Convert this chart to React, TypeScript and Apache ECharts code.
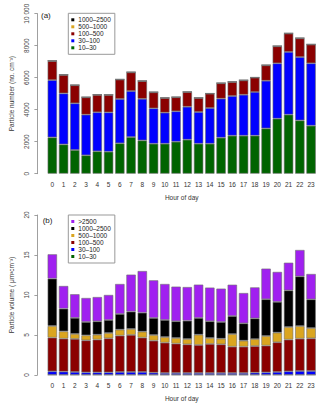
import React, { useEffect, useRef } from "react";
import * as echarts from "echarts";

const hours = ["0","1","2","3","4","5","6","7","8","9","10","11","12","13","14","15","16","17","18","19","20","21","22","23"];

// Panel (a): particle number (no. cm^-3)
const numSizes = ["10–30", "30–100", "100–500", "500–1000", "1000–2500"];
const num10_30 = [2270,1830,1480,1150,1400,1375,1900,2290,2080,1875,1875,2000,2125,1875,1875,2250,2375,2375,2375,2830,3440,3690,3330,3000];
const num30_100 = [3580,3190,2920,2540,2440,2460,2770,2875,2600,2210,1940,1900,2060,1980,2230,2440,2480,2560,2730,2980,3460,3920,3960,3900];
const num100_500 = [1190,1150,1125,1080,1085,1085,1210,1165,1105,1000,915,875,915,875,895,960,875,895,895,960,1060,1145,1165,1165];
const num500_1000 = [20,18,16,15,15,15,17,18,17,15,14,14,14,14,14,15,15,15,16,18,20,22,22,21];
const num1000_2500 = [4,4,3,3,3,3,3,4,4,3,3,3,3,3,3,3,3,3,3,4,4,5,5,4];
const numTicks = [0, 2000, 4000, 6000, 8000, 10000];

// Panel (b): particle volume (um^3 cm^-3)
const volSizes = ["10–30", "30–100", "100–500", "500–1000", "1000–2500", ">2500"];
const vol10_30 = [0.02,0.02,0.02,0.02,0.02,0.02,0.02,0.02,0.02,0.02,0.02,0.02,0.02,0.02,0.02,0.02,0.02,0.02,0.02,0.02,0.02,0.02,0.02,0.02];
const vol30_100 = [0.44,0.40,0.36,0.31,0.31,0.31,0.36,0.36,0.36,0.27,0.23,0.23,0.23,0.23,0.23,0.23,0.23,0.23,0.27,0.31,0.36,0.44,0.48,0.48];
const vol100_500 = [4.21,4.12,4.13,4.00,4.09,4.25,4.54,4.63,4.29,4.00,3.79,3.67,3.58,3.50,3.63,3.58,3.29,3.29,3.33,3.34,3.71,3.96,4.04,4.08];
const vol500_1000 = [1.46,0.92,0.63,0.63,0.62,0.67,0.75,0.75,0.75,0.71,0.71,0.71,0.67,1.29,0.75,0.71,1.58,0.75,0.88,1.21,1.21,1.58,1.58,1.29];
const vol1000_2500 = [5.92,2.83,2.00,1.67,1.67,1.63,1.96,2.17,2.37,2.13,2.13,2.09,2.29,2.09,2.09,2.09,2.25,2.17,2.58,4.59,3.84,4.58,6.21,3.59];
const vol2500 = [3.04,2.84,2.96,3.00,3.04,3.13,3.75,4.62,5.21,4.71,4.50,4.33,4.21,4.17,4.21,4.17,3.92,3.79,3.88,3.83,3.75,3.46,3.30,3.17];
const volTicks = [0, 5, 10, 15, 20];

const colors: Record<string, string> = {
  "10–30": "#006400",
  "30–100": "#0000FF",
  "100–500": "#8B0000",
  "500–1000": "#DAA520",
  "1000–2500": "#000000",
  ">2500": "#A020F0",
};

const FONT = "Liberation Sans, Arial, Helvetica, sans-serif";

export default function App() {
  const ref = useRef<HTMLDivElement>(null);
  useEffect(() => {
    if (!ref.current) return;
    const chart = echarts.init(ref.current, undefined, { renderer: "svg" });
    const numData = [num10_30, num30_100, num100_500, num500_1000, num1000_2500];
    const volData = [vol10_30, vol30_100, vol100_500, vol500_1000, vol1000_2500, vol2500];

    const barStyle = (name: string) => ({
      color: colors[name],
      borderColor: "rgba(110,110,110,0.85)",
      borderWidth: 0.7,
    });

    const series: any[] = [];
    numSizes.forEach((n, i) => {
      series.push({
        type: "bar", name: n, xAxisIndex: 0, yAxisIndex: 0, stack: "a",
        data: numData[i], barWidth: "84%", itemStyle: barStyle(n),
      });
    });
    volSizes.forEach((n, i) => {
      series.push({
        type: "bar", name: n, xAxisIndex: 1, yAxisIndex: 1, stack: "b",
        data: volData[i], barWidth: "84%", itemStyle: barStyle(n),
      });
    });

    const xAxisBase = (gi: number) => ({
      type: "category", gridIndex: gi, data: hours,
      axisLine: { show: false }, axisTick: { show: false },
      axisLabel: { fontSize: 6.5, color: "#333", margin: 7, fontFamily: FONT, interval: 0 },
      name: "Hour of day", nameLocation: "middle", nameGap: 20,
      nameTextStyle: { fontSize: 6.5, color: "#333", fontFamily: FONT },
    });
    const yAxisBase = (gi: number, max: number, interval: number, name: string, fmt: (v: number) => string) => ({
      type: "value", gridIndex: gi, min: 0, max, interval, offset: 9.3,
      splitLine: { show: false },
      axisLine: { show: true, lineStyle: { color: "#888", width: 0.8 } },
      axisTick: { show: true, length: 3, lineStyle: { color: "#888", width: 0.8 } },
      axisLabel: { rotate: 90, fontSize: 6.5, color: "#444", margin: 7.5, fontFamily: FONT, formatter: fmt },
      name, nameLocation: "middle", nameGap: 21, nameRotate: 90,
      nameTextStyle: { fontSize: 6.5, color: "#333", fontFamily: FONT },
    });

    const legendBase = (top: number, data: string[]) => ({
      orient: "vertical", left: 68.3, top, padding: [3, 4, 3, 3],
      itemWidth: 3, itemHeight: 3, itemGap: 0, icon: "rect",
      itemStyle: { borderWidth: 0 },
      borderColor: "#999", borderWidth: 1,
      textStyle: { fontSize: 6.5, color: "#222", fontFamily: FONT, lineHeight: 7, padding: [0, 0, 0, -1] },
      data,
      selectedMode: false,
    });

    chart.setOption({
      animation: false,
      textStyle: { fontFamily: FONT },
      grid: [
        { left: 40.95, right: 3.3, top: 13.7, height: 160 },
        { left: 40.95, right: 3.3, top: 215, height: 160 },
      ],
      xAxis: [xAxisBase(0), xAxisBase(1)],
      yAxis: [
        yAxisBase(0, numTicks[numTicks.length - 1], numTicks[1] - numTicks[0], "Particle number (no. cm⁻³)",
          (v: number) => (v >= 10000 ? "10 000" : String(v))),
        yAxisBase(1, volTicks[volTicks.length - 1], volTicks[1] - volTicks[0], "Particle volume ( μm³cm⁻³)",
          (v: number) => String(v)),
      ],
      legend: [
        legendBase(13.3, [...numSizes].reverse()),
        legendBase(215, [...volSizes].reverse()),
      ],
      graphic: [
        { type: "text", left: 41, top: 11.5, style: { text: "(a)", fontSize: 8, fill: "#222", fontFamily: FONT } },
        { type: "text", left: 42.7, top: 216.5, style: { text: "(b)", fontSize: 8, fill: "#222", fontFamily: FONT } },
      ],
      series,
    });
    return () => chart.dispose();
  }, []);
  return <div ref={ref} style={{ position: "fixed", left: 0, top: 0, width: 320, height: 403, background: "#fff" }} />;
}
